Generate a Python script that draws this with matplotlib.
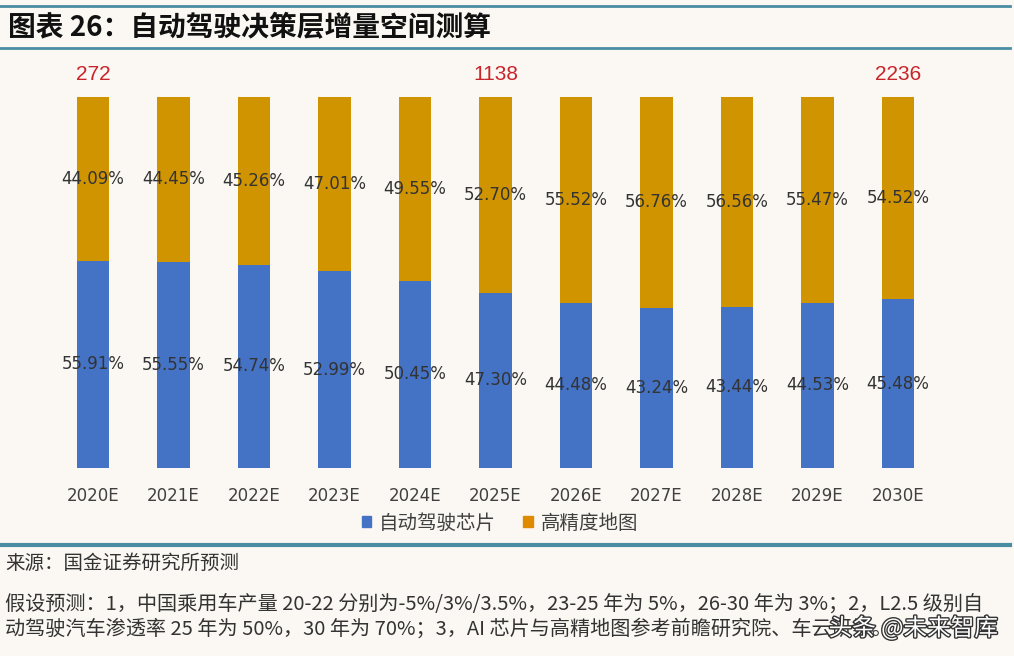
import numpy as np
import matplotlib
matplotlib.use("Agg")
import matplotlib.pyplot as plt
from matplotlib.lines import Line2D
from matplotlib.patches import Patch
import matplotlib.patheffects as pe

plt.rcParams['font.family'] = ['Noto Sans CJK SC', 'DejaVu Sans']

years = ['2020E', '2021E', '2022E', '2023E', '2024E', '2025E',
         '2026E', '2027E', '2028E', '2029E', '2030E']
chip = [55.91, 55.55, 54.74, 52.99, 50.45, 47.30, 44.48, 43.24, 43.44, 44.53, 45.48]
hdmap = [44.09, 44.45, 45.26, 47.01, 49.55, 52.70, 55.52, 56.76, 56.56, 55.47, 54.52]
totals = {0: '272', 5: '1138', 10: '2236'}

bg = '#FBF8F3'
blue = '#4472C4'
orange = '#D09400'
teal = '#4A8CA2'

W, H = 1014, 656
fig = plt.figure(figsize=(W / 100, H / 100), dpi=100, facecolor=bg)

# axes placed in pixel terms: bar centres 93..898, bars from y=468 up to y=97
left = (93 - 40.25) / W
right = (898 + 40.25) / W
bottom = (H - 468) / H
top = (H - 97) / H
ax = fig.add_axes([left, bottom, right - left, top - bottom], facecolor=bg)

x = np.arange(len(years))
ax.bar(x, chip, width=0.4, color=blue, label='自动驾驶芯片')
ax.bar(x, hdmap, width=0.4, bottom=chip, color=orange, label='高精度地图')

for i in x:
    ax.text(i, chip[i] / 2, f'{chip[i]:.2f}%', ha='center', va='center',
            fontsize=12, color='#333333', family='DejaVu Sans')
    ax.text(i, chip[i] + hdmap[i] / 2, f'{hdmap[i]:.2f}%', ha='center', va='center',
            fontsize=12, color='#333333', family='DejaVu Sans')

for i, t in totals.items():
    ax.text(i, 103.5, t, ha='center', va='bottom', fontsize=15, color='#C8242B',
            family='Liberation Sans', clip_on=False)

ax.set_xlim(-0.5, len(years) - 0.5)
ax.set_ylim(0, 100)
ax.set_xticks(x)
ax.set_xticklabels(years, fontsize=12, color='#404040', family='DejaVu Sans')
ax.tick_params(axis='x', length=0, pad=14)
ax.set_yticks([])
for s in ax.spines.values():
    s.set_visible(False)

handles = [Patch(color=blue), Patch(color='#E08A00')]
fig.legend(handles, ['自动驾驶芯片', '高精度地图'], loc='center',
           bbox_to_anchor=(500 / W, 1 - 523 / H), ncol=2, frameon=False,
           fontsize=14, handlelength=0.5, handleheight=0.5, handletextpad=0.4,
           columnspacing=1.4, labelcolor='#404040')

# header / footer rules
for yy, lw in [(6, 2), (48, 2), (545, 3)]:
    fig.add_artist(Line2D([0, 1010 / W], [1 - yy / H, 1 - yy / H], color=teal, lw=lw))

fig.text(8 / W, 1 - 28 / H, '图表 26：自动驾驶决策层增量空间测算', fontsize=20,
         fontweight='heavy', fontstyle='italic', color='#111111', va='center')

fig.text(5 / W, 1 - 563 / H, '来源：国金证券研究所预测', fontsize=14, color='#333333', va='center')
fig.text(5 / W, 1 - 604 / H,
         '假设预测：1，中国乘用车产量 20-22 分别为-5%/3%/3.5%，23-25 年为 5%，26-30 年为 3%；2，L2.5 级别自',
         fontsize=14.5, color='#333333', va='center')
fig.text(5 / W, 1 - 629 / H,
         '动驾驶汽车渗透率 25 年为 50%，30 年为 70%；3，AI 芯片与高精地图参考前瞻研究院、车云研等。',
         fontsize=14.5, color='#333333', va='center')

fig.text(998 / W, 1 - 628 / H, '头条 @未来智库', fontsize=17, color='white', ha='right',
         va='center', path_effects=[pe.withStroke(linewidth=2, foreground='#333333')])

fig.savefig('out.png', dpi=100, facecolor=bg)
